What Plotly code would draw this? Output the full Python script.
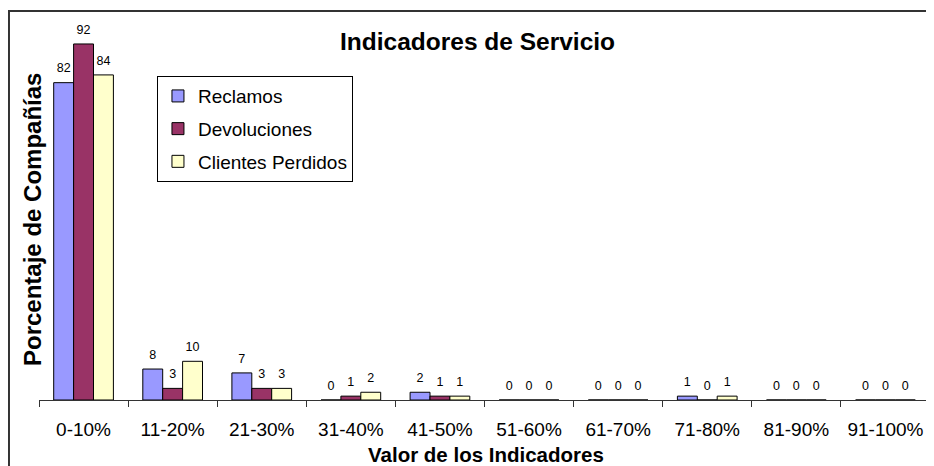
import plotly.graph_objects as go

categories = ["0-10%", "11-20%", "21-30%", "31-40%", "41-50%",
              "51-60%", "61-70%", "71-80%", "81-90%", "91-100%"]
reclamos = [82, 8, 7, 0, 2, 0, 0, 1, 0, 0]
devoluciones = [92, 3, 3, 1, 1, 0, 0, 0, 0, 0]
clientes_perdidos = [84, 10, 3, 2, 1, 0, 0, 1, 0, 0]

series = [
    ("Reclamos", reclamos, "#9999FF"),
    ("Devoluciones", devoluciones, "#993366"),
    ("Clientes Perdidos", clientes_perdidos, "#FFFFCC"),
]

FONT = "Liberation Sans, Arial, sans-serif"

fig = go.Figure()
for i, (name, vals, color) in enumerate(series):
    fig.add_trace(go.Bar(
        x=categories, y=vals, name=name, legendgroup=name,
        marker=dict(color=color, line=dict(color="black", width=1)),
        hoverinfo="skip",
    ))
for i, (name, vals, color) in enumerate(series):
    fig.add_trace(go.Scatter(
        x=categories, y=vals, mode="markers+text", text=[str(v) for v in vals],
        textposition="top center", showlegend=False,
        marker=dict(size=10, opacity=0),
        textfont=dict(family=FONT, size=12.5, color="black"),
        hoverinfo="skip", cliponaxis=False,
    ))

# page body has an 8px default margin, so the figure is 8px smaller
fig.update_layout(
    width=926, height=458,
    margin=dict(l=31, r=4, t=5, b=66, autoexpand=False),
    paper_bgcolor="white", plot_bgcolor="white",
    barmode="group", bargap=0.33, bargroupgap=0,
    scattermode="group", scattergap=0.33,
    font=dict(family=FONT, color="black"),
    showlegend=True,
    legend=dict(
        x=0.1324, y=0.837, xanchor="left", yanchor="top",
        bordercolor="black", borderwidth=1, bgcolor="white",
        font=dict(family=FONT, size=19, color="black"),
        traceorder="grouped", tracegroupgap=5,
    ),
    xaxis=dict(
        type="category", showgrid=False, showline=True, linecolor="#333",
        linewidth=1, ticks="outside", tickson="boundaries", ticklen=6,
        tickcolor="#333", tickfont=dict(family=FONT, size=19, color="black"),
        ticklabelstandoff=12, zeroline=False,
    ),
    yaxis=dict(visible=False, range=[0, 100], showgrid=False, zeroline=False),
    annotations=[
        dict(text="<b>Indicadores de Servicio</b>", xref="paper", yref="paper",
             x=0.492, y=0.9276, xanchor="center", yanchor="middle",
             showarrow=False, font=dict(family=FONT, size=24.5, color="black")),
        dict(text="<b>Valor de los Indicadores</b>", xref="paper", yref="paper",
             x=0.5017, y=-0.142, xanchor="center", yanchor="middle",
             showarrow=False, font=dict(family=FONT, size=20.5, color="black")),
        dict(text="<b>Porcentaje de Compañías</b>", xref="paper", yref="paper",
             x=-0.00786, y=0.4677, xanchor="center", yanchor="middle",
             textangle=-90, showarrow=False,
             font=dict(family=FONT, size=24, color="black")),
    ],
    shapes=[
        dict(type="rect", xref="paper", yref="paper",
             x0=-0.0337, x1=1.2, y0=-0.5, y1=1.0052,
             line=dict(color="#333", width=2), fillcolor="rgba(0,0,0,0)",
             layer="above"),
    ],
)

fig.write_html("out.html")
